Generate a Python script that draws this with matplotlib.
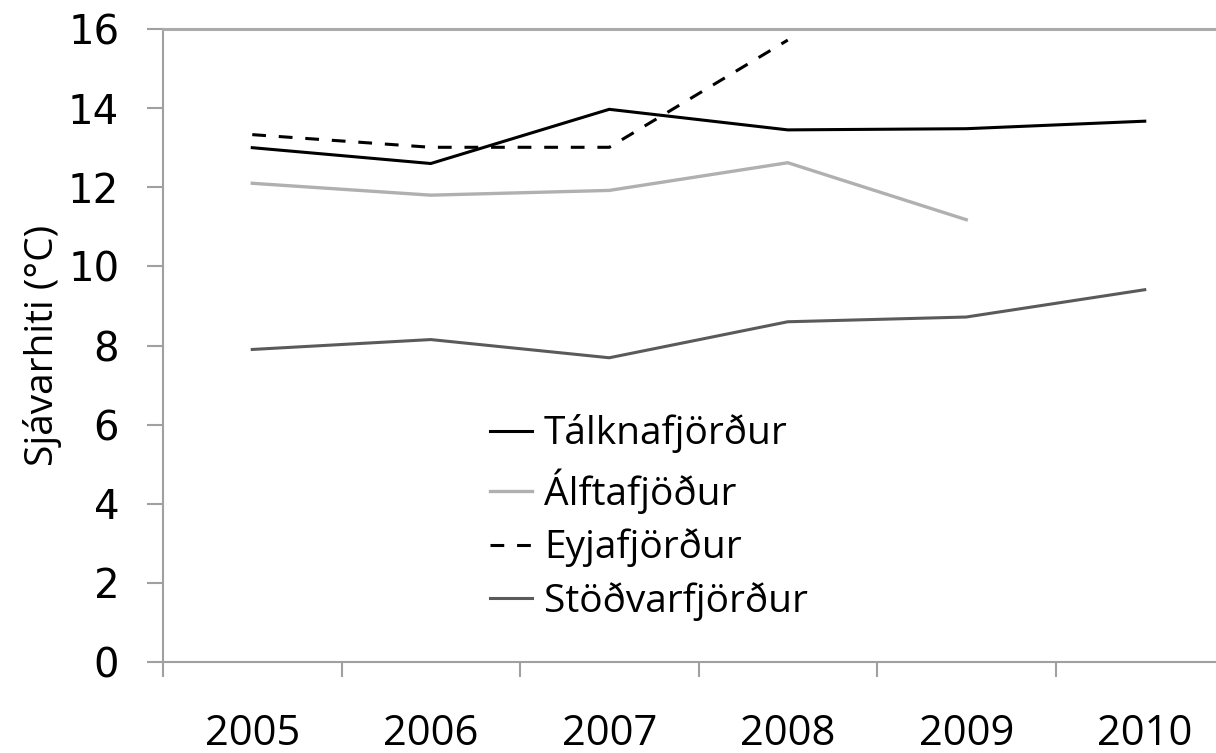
import matplotlib
matplotlib.use("Agg")
import matplotlib.pyplot as plt

# Data
years = ["2005", "2006", "2007", "2008", "2009", "2010"]
talknafjordur = [13.0, 12.6, 13.97, 13.45, 13.48, 13.67]
alftafjodur = [12.1, 11.8, 11.92, 12.62, 11.18]
eyjafjordur = [13.33, 13.01, 13.01, 15.72]
stodvarfjordur = [7.9, 8.15, 7.69, 8.6, 8.72, 9.41]
y_ticks = [0, 2, 4, 6, 8, 10, 12, 14, 16]

axis_grey = "#a0a0a0"
text_font = ["Open Sans", "DejaVu Sans"]

fig = plt.figure(figsize=(12.16, 7.53), dpi=100)
ax = fig.add_axes([163 / 1216, 91 / 753, 1071 / 1216, 633 / 753])

ax.plot(range(len(talknafjordur)), talknafjordur, color="black", lw=2.2,
        label="Tálknafjörður")
ax.plot(range(len(alftafjodur)), alftafjodur, color="#b0b0b0", lw=2.4,
        label="Álftafjöður")
ax.plot(range(len(eyjafjordur)), eyjafjordur, color="black", lw=2.2,
        dashes=(4.5, 4.2), label="Eyjafjörður")
ax.plot(range(len(stodvarfjordur)), stodvarfjordur, color="#5a5a5a", lw=2.2,
        label="Stöðvarfjörður")

ax.set_xlim(-0.5, len(years) - 0.5)
ax.set_ylim(0, 16)

# category labels in the middle, tick marks on the boundaries
ax.set_xticks(range(len(years)))
ax.set_xticklabels(years, family=text_font, fontsize=30)
ax.set_xticks([i - 0.5 for i in range(len(years) + 1)], minor=True)
ax.tick_params(axis="x", which="major", length=0, pad=37, colors="black")
ax.tick_params(axis="x", which="minor", length=11, width=1.5,
               color=axis_grey, direction="out")

ax.set_yticks(y_ticks)
ax.set_yticklabels([str(v) for v in y_ticks], family="DejaVu Sans", fontsize=29)
ax.tick_params(axis="y", length=11.5, width=1.5, color=axis_grey, pad=20)

ax.set_ylabel("Sjávarhiti (°C)", family=text_font, fontsize=28, labelpad=4)

for side in ["left", "bottom"]:
    ax.spines[side].set_color(axis_grey)
    ax.spines[side].set_linewidth(1.5)
ax.spines["top"].set_color("#aaaaaa")
ax.spines["top"].set_linewidth(2.2)
ax.spines["right"].set_visible(False)

ax.legend(loc="center left", bbox_to_anchor=(0.305, 0.228),
          frameon=False, borderpad=0, borderaxespad=0, handlelength=1.1,
          handletextpad=0.3, labelspacing=0.38,
          prop={"family": text_font, "size": 28})

plt.savefig("out.png", dpi=100)
plt.close()
